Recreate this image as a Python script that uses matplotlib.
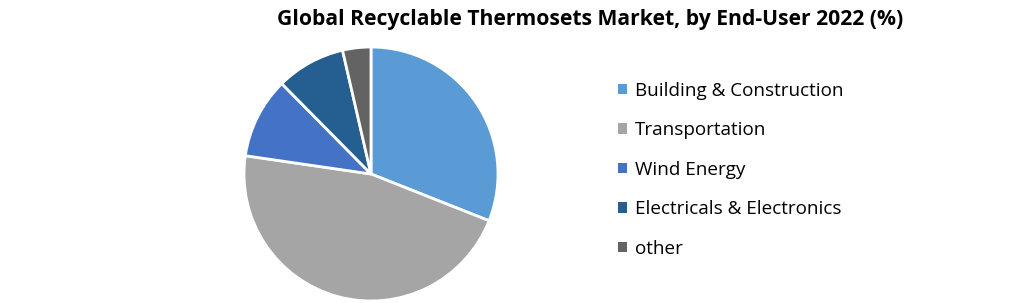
import matplotlib
matplotlib.use('Agg')
import matplotlib.pyplot as plt

# shares (%)
segments = ['Building & Construction', 'Transportation', 'Wind Energy',
            'Electricals & Electronics', 'other']
shares = [31.0, 46.3, 10.3, 8.8, 3.6]
colours = ['#5B9BD5', '#A5A5A5', '#4472C4', '#255E91', '#636363']

plt.rcParams['font.family'] = ['Open Sans', 'DejaVu Sans']

fig = plt.figure(figsize=(10.2, 3.03), dpi=100)
fig.text(590/1020, 1 - 20/303, 'Global Recyclable Thermosets Market, by End-User 2022 (%)',
         ha='center', va='center', fontsize=15.2, fontweight='bold', color='black')

ax = fig.add_axes([244/1020, 2/303, 254/1020, 254/303])
wedges, _ = ax.pie(shares, colors=colours, startangle=90, counterclock=False,
                   radius=1, wedgeprops=dict(edgecolor='white', linewidth=2))
ax.set_xlim(-1, 1)
ax.set_ylim(-1, 1)
ax.set_aspect('equal')

fig.legend(wedges, segments, loc='upper left', bbox_to_anchor=(610/1020, 1 - 74/303),
           frameon=False, fontsize=13.6, handlelength=0.48, handleheight=0.48,
           handletextpad=0.42, labelspacing=1.14, borderaxespad=0)
for h in fig.legends[0].legend_handles:
    h.set_edgecolor('none')

fig.savefig('out.png', dpi=100)
